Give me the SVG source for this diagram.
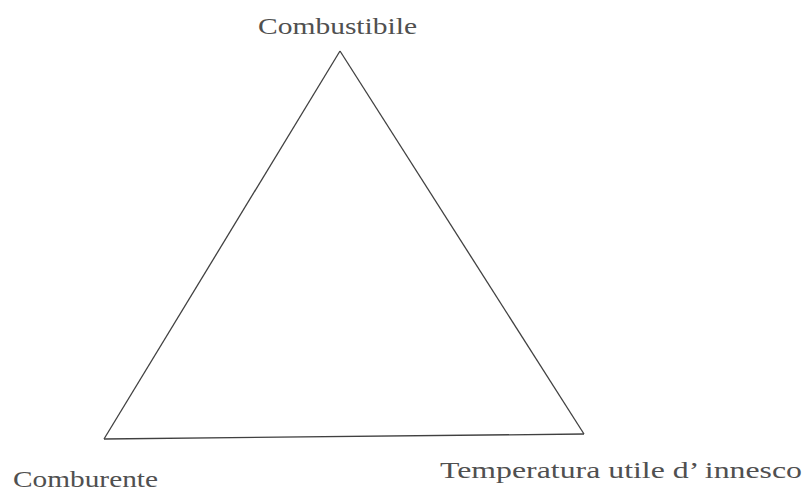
<svg xmlns="http://www.w3.org/2000/svg" width="807" height="491" viewBox="0 0 807 491">
<style>
.lbl{font-family:"Liberation Serif","Times New Roman",serif;font-size:23px;fill:#505050}
.edge{fill:none;stroke:#404040;stroke-width:1.3;stroke-linejoin:miter}
</style>
<rect width="807" height="491" fill="#ffffff"/>
<g id="connectors">
<path class="edge" d="M340,51 L104,439"/>
<path class="edge" d="M340,51 L584,434"/>
<path class="edge" d="M104,439 L584,434"/>
</g>
<g id="combustibile"><text class="lbl" x="258" y="34" textLength="159" lengthAdjust="spacingAndGlyphs">Combustibile</text></g>
<g id="comburente"><text class="lbl" x="13" y="487" textLength="145" lengthAdjust="spacingAndGlyphs">Comburente</text></g>
<g id="temperatura"><text class="lbl" x="440" y="478" textLength="362" lengthAdjust="spacingAndGlyphs">Temperatura utile d’ innesco</text></g>
</svg>
